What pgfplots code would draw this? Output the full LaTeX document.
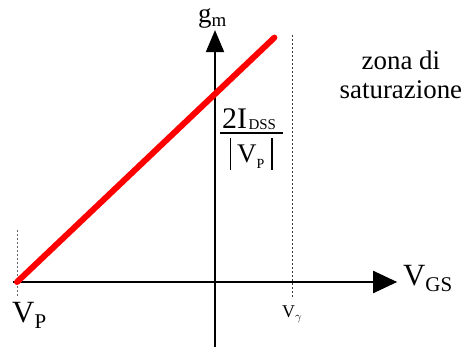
\documentclass[border=0pt]{standalone}
\usepackage{fontspec}
\setmainfont{Liberation Serif}
\usepackage{pgfplots}
\pgfplotsset{compat=1.18}
\usetikzlibrary{arrows.meta}

% lowered subscript in the text font: size, drop, text
\newcommand{\lsub}[3]{\raisebox{-#2}{\fontsize{#1}{#1}\selectfont #3}}

\begin{document}
\begin{tikzpicture}
\useasboundingbox (0,0) rectangle (464bp,347bp);
\begin{axis}[
  at={(215bp,65bp)}, anchor=origin,
  x=198bp, y=188bp,
  xmin=-1.05, xmax=0.95, ymin=-0.35, ymax=1.35,
  hide axis, clip=false,
]
% axes with arrow heads
\draw[line width=2bp, -{Triangle[length=24bp,width=22bp]}]
  (axis cs:-1.02,0) -- (axis cs:0.92,0);
\draw[line width=2bp, -{Triangle[length=22bp,width=18bp]}]
  (axis cs:0,-0.35) -- (axis cs:0,1.34);
% guide lines at V_P and V_gamma
\draw[line width=0.8bp, dash pattern=on 2.5bp off 1.5bp, black!75]
  (axis cs:0.389,1.314) -- (axis cs:0.389,-0.085);
\draw[line width=0.8bp, dash pattern=on 2.5bp off 1.5bp, black!60]
  (axis cs:-1,0.277) -- (axis cs:-1,-0.08);
% transconductance vs V_GS
\addplot[red, line width=6bp, line cap=round] coordinates {(-1,0) (0.3,1.3)};
% axis names
\node[anchor=base west, inner sep=0pt, font=\fontsize{27}{28}\selectfont]
  at (axis cs:-0.086,1.378) {g\lsub{19}{4bp}{m}};
\node[anchor=base west, inner sep=0pt, font=\fontsize{31}{33}\selectfont]
  at (axis cs:0.949,-0.016) {V\lsub{21}{6bp}{GS}};
\node[anchor=base west, inner sep=0pt, font=\fontsize{31}{33}\selectfont]
  at (axis cs:-1.025,-0.213) {V\lsub{21}{6bp}{P}};
\node[anchor=base west, inner sep=0pt, font=\fontsize{18}{20}\selectfont]
  at (axis cs:0.338,-0.191) {V\lsub{13}{3bp}{$\gamma$}};
% intercept 2 I_DSS / |V_P|
\node[anchor=base west, inner sep=0pt, font=\fontsize{30}{32}\selectfont]
  at (axis cs:0.035,0.819) {2I\kern1.5bp\lsub{15}{1bp}{DSS}};
\draw[line width=1.3bp] (axis cs:0.025,0.793) -- (axis cs:0.343,0.793);
\draw[line width=1.1bp] (axis cs:0.076,0.767) -- (axis cs:0.076,0.596);
\draw[line width=1.1bp] (axis cs:0.288,0.767) -- (axis cs:0.288,0.596);
\node[anchor=base west, inner sep=0pt, font=\fontsize{27}{29}\selectfont]
  at (axis cs:0.111,0.633) {V\lsub{14}{6bp}{P}};
% region note
\node[align=center, inner sep=0pt, font=\fontsize{27}{29}\selectfont]
  at (axis cs:0.939,1.101) {zona di\\saturazione};
\end{axis}
\end{tikzpicture}
\end{document}
